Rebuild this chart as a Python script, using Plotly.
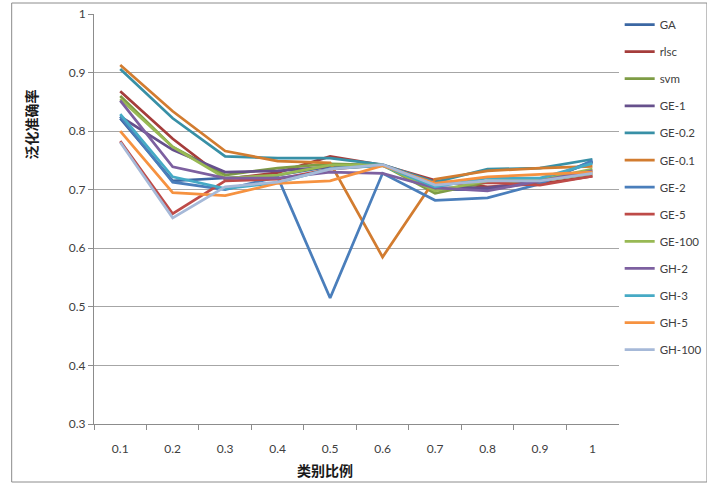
import plotly.graph_objects as go

# Class ratio categories on the x axis
ratios = ["0.1", "0.2", "0.3", "0.4", "0.5", "0.6", "0.7", "0.8", "0.9", "1"]

# Generalisation accuracy per method
GA = [0.822, 0.715, 0.720, 0.725, 0.740, 0.742, 0.700, 0.700, 0.715, 0.748]
rlsc = [0.868, 0.787, 0.718, 0.729, 0.757, 0.742, 0.716, 0.705, 0.710, 0.723]
svm = [0.860, 0.773, 0.725, 0.737, 0.744, 0.742, 0.694, 0.713, 0.715, 0.727]
GE_1 = [0.825, 0.768, 0.730, 0.732, 0.739, 0.742, 0.703, 0.703, 0.715, 0.747]
GE_02 = [0.906, 0.822, 0.757, 0.754, 0.754, 0.743, 0.713, 0.735, 0.737, 0.752]
GE_01 = [0.913, 0.834, 0.766, 0.749, 0.746, 0.585, 0.718, 0.732, 0.737, 0.740]
GE_2 = [0.825, 0.713, 0.700, 0.722, 0.515, 0.728, 0.682, 0.686, 0.710, 0.750]
GE_5 = [0.783, 0.659, 0.715, 0.718, 0.735, 0.742, 0.710, 0.712, 0.708, 0.723]
GE_100 = [0.855, 0.773, 0.720, 0.725, 0.742, 0.742, 0.698, 0.715, 0.717, 0.735]
GH_2 = [0.852, 0.739, 0.720, 0.720, 0.730, 0.728, 0.703, 0.698, 0.715, 0.732]
GH_3 = [0.829, 0.722, 0.702, 0.712, 0.736, 0.741, 0.705, 0.720, 0.720, 0.745]
GH_5 = [0.800, 0.695, 0.690, 0.711, 0.715, 0.741, 0.711, 0.722, 0.726, 0.730]
GH_100 = [0.781, 0.652, 0.705, 0.713, 0.735, 0.743, 0.708, 0.715, 0.715, 0.728]

series = [
    ("GA", GA, "#3B67A3"),
    ("rlsc", rlsc, "#A53D3B"),
    ("svm", svm, "#7E9C45"),
    ("GE-1", GE_1, "#66508C"),
    ("GE-0.2", GE_02, "#3890A6"),
    ("GE-0.1", GE_01, "#D27C30"),
    ("GE-2", GE_2, "#4A7EBB"),
    ("GE-5", GE_5, "#BE4B48"),
    ("GE-100", GE_100, "#98B954"),
    ("GH-2", GH_2, "#7D60A0"),
    ("GH-3", GH_3, "#46AAC5"),
    ("GH-5", GH_5, "#F69240"),
    ("GH-100", GH_100, "#A6B9D8"),
]

fig = go.Figure()
for name, vals, color in series:
    fig.add_trace(go.Scatter(
        x=ratios, y=vals, name=name, mode="lines",
        line=dict(color=color, width=2.75),
        legendgroup=name,
    ))

tick_font = dict(family="Lato, Liberation Sans, sans-serif", size=12, color="#404040")
legend_font = dict(family="Lato, Liberation Sans, sans-serif", size=11.5, color="#404040")
cjk_font = dict(family="Noto Sans CJK SC", size=14, color="#1a1a1a")

W, H = 707, 486
L, R, T, B = 94, 623, 14, 424   # plot-area edges in pixels
MR = 0                           # paper reaches the right edge
paper_w = W - L - MR
pw, ph = R - L, B - T
dom = pw / paper_w               # x-axis domain end so the plot stops at R

def px(xpix):
    return (xpix - L) / paper_w

def py(ypix):
    return (B - ypix) / ph

fig.update_layout(
    width=W, height=H,
    margin=dict(l=L, r=MR, t=T, b=H - B),
    paper_bgcolor="white", plot_bgcolor="white",
    showlegend=True,
    legend=dict(
        x=px(624), y=py(10), xanchor="left", yanchor="top",
        font=legend_font, itemwidth=30, tracegroupgap=8.1,
        maxheight=470,
        bgcolor="rgba(0,0,0,0)",
    ),
    xaxis=dict(
        domain=[0, dom],
        type="category", tickson="boundaries",
        showgrid=False, showline=True, linecolor="#8c8c8c", linewidth=1,
        ticks="outside", ticklen=5, tickcolor="#8c8c8c",
        tickfont=tick_font, ticklabelstandoff=14,
        range=[-0.5, 9.5],
    ),
    yaxis=dict(
        range=[0.3, 1.0], dtick=0.1,
        showgrid=True, gridcolor="#a6a6a6", gridwidth=1,
        showline=True, linecolor="#8c8c8c", linewidth=1,
        ticks="outside", ticklen=5, tickcolor="#8c8c8c",
        tickfont=tick_font, zeroline=False,
    ),
    annotations=[
        dict(text="<b>泛化准确率</b>", xref="paper", yref="paper",
             x=px(30), y=py(125), textangle=-90,
             showarrow=False, font=cjk_font, xanchor="center", yanchor="middle"),
        dict(text="<b>类别比例</b>", xref="paper", yref="paper",
             x=px(327), y=py(470),
             showarrow=False, font=cjk_font, xanchor="center", yanchor="middle"),
    ],
    shapes=[
        dict(type="rect", xref="paper", yref="paper",
             x0=px(11), x1=px(W + 5),
             y0=py(482), y1=py(3),
             line=dict(color="#8c8c8c", width=1), layer="below"),
    ],
)

fig.write_html("out.html")
